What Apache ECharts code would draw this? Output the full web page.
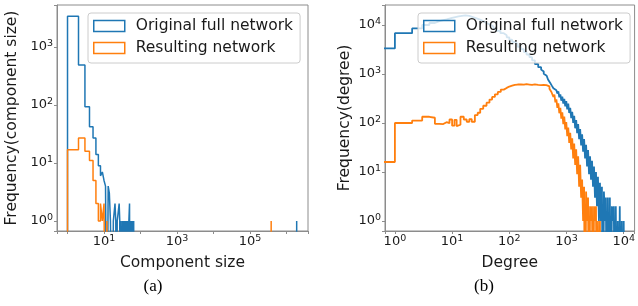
<!DOCTYPE html>
<html>
<head>
<meta charset="utf-8">
<script src="https://cdn.jsdelivr.net/npm/echarts@6/dist/echarts.min.js"></script>
<style>
html, body { margin: 0; padding: 0; background: #fff; }
#chart { width: 638px; height: 306px; }
</style>
</head>
<body>
<div id="chart"></div>
<script>
// (a) component size histogram, integer bins [size, size + 1)
var compSizeBlue = [1, 2, 3, 4, 5, 6, 7, 8, 9, 10,
  11, 12, 13, 14, 15, 16, 17, 18, 19, 20,
  21, 22, 23, 24, 25, 26, 27, 28, 29, 30,
  31, 32, 33, 34, 35, 36, 37, 38, 39, 40,
  41, 42, 43, 44, 45, 46, 47, 48, 49, 50,
  51, 52, 53, 54, 55, 56, 57, 58, 59, 60,
  61, 62, 63, 64, 65, 1900000];
var compCountBlue = [3400, 490, 93, 42, 27, 14, 9, 6, 7, 5,
  4, 0, 4, 3, 1, 1, 0, 1, 1, 2,
  1, 0, 1, 1, 1, 2, 1, 0, 1, 1,
  0, 1, 1, 0, 1, 0, 1, 1, 0, 1,
  1, 0, 1, 0, 1, 1, 0, 1, 1, 2,
  2, 0, 1, 0, 1, 0, 1, 1, 0, 1,
  0, 1, 0, 0, 1, 1];
var compSizeOrange = [1, 2, 3, 4, 5, 6, 7, 8, 9, 10, 11, 12, 380000];
var compCountOrange = [17, 27, 16, 11, 5, 2, 1, 2, 1, 2, 0, 1, 1];

// (b) degree histogram, bin edges and counts (noisy tails alternate high/low)
var degEdgesBlue = [0, 1, 2, 3, 4, 5, 6, 8, 10, 13, 17, 20, 23, 26, 30, 35, 40, 46, 53, 60,
  70, 80, 90, 100, 112, 125, 140, 160, 180, 200, 225, 250, 280, 320, 360, 380, 400, 425, 450, 475,
  500, 530, 560, 590, 620,
  665, 692, 720, 749, 780, 811, 844, 879, 914, 951,
  990, 1030, 1072, 1116, 1161, 1209, 1258, 1309, 1362, 1418,
  1475, 1535, 1598, 1663, 1731, 1801, 1874, 1951, 2030, 2113,
  2199, 2288, 2381, 2478, 2579, 2684, 2793, 2907, 3025, 3148,
  3276, 3409, 3548, 3693, 3843, 3999, 4162, 4331, 4508, 4691,
  4882, 5081, 5287, 5503, 5727, 5960, 6202, 6455, 6717, 6991,
  7275, 7571, 7879, 8200, 8534, 8881, 9243, 9619, 10000, 10407, 10831];
var degCountBlue = [3330, 6800, 8500, 10000, 11000, 12000, 13000, 14000, 15000, 15800,
  15300, 14500, 13800, 13000, 12000, 11000, 10200, 9300, 8400, 7600,
  6800, 6200, 5600, 5000, 4500, 4100, 3600, 3200, 2800, 2500,
  2200, 1900, 1600, 1380, 1230, 1120, 1010, 920, 840, 770,
  700, 630, 565, 510, 465,
  480, 400, 440, 335, 385, 285, 345, 250, 310, 218,
  280, 190, 250, 160, 205, 126, 170, 100, 140, 78,
  115, 62, 95, 47, 75, 35, 59, 26, 47, 19,
  36, 13, 28, 9, 21, 7, 17, 5, 13, 3,
  10, 2, 8, 1, 6, 1, 5, 0, 4, 1,
  3, 0, 3, 0, 3, 0, 2, 1, 2, 0,
  2, 0, 1, 0, 2, 0, 1, 0, 1, 0];
var degEdgesOrange = [0, 1, 2, 3, 4, 5, 6, 7, 8, 9, 10, 11, 12, 13, 14, 16, 18, 20, 22, 25,
  28, 31, 35, 40, 45, 50, 56, 63, 71, 80, 90, 100, 112, 125, 140, 160, 180, 200, 225, 250,
  280, 320, 360, 400,
  446, 464, 483, 503, 523, 545, 567, 590, 614, 639,
  665, 692, 720, 749, 780, 811, 844, 879, 914, 951,
  990, 1030, 1072, 1116, 1161, 1209, 1258, 1309, 1362, 1418,
  1475, 1535, 1598, 1663, 1731, 1801, 1874, 1951, 2030, 2113,
  2199, 2288, 2381, 2478, 2579, 2684, 2793, 2907, 3025, 3148,
  3276, 3409, 3548, 3693, 3843, 3999, 4162];
var degCountOrange = [16, 100, 112, 134, 128, 96, 95, 104, 99, 118,
  88, 116, 86, 92, 134, 118, 106, 120, 106, 145,
  162, 195, 225, 260, 300, 340, 385, 430, 480, 520,
  555, 580, 600, 610, 615, 605, 620, 610, 600, 612,
  600, 590, 600, 595,
  585, 555, 560, 500, 515, 430, 460, 340, 380, 265,
  305, 204, 251, 158, 204, 123, 166, 95, 135, 74,
  105, 54, 81, 39, 63, 29, 49, 19, 38, 14,
  29, 9, 21, 5, 14, 3, 7, 1, 5, 0,
  4, 1, 3, 0, 2, 1, 2, 0, 2, 1,
  2, 0, 1, 0, 1, 0];

var seriesNames = ['Original full network', 'Resulting network'];
var BLUE = '#1f77b4', ORANGE = '#ff7f0e';
var FLOOR = 1e-3;

function stepLine(lefts, rights, counts) {
  var pts = [];
  for (var i = 0; i < counts.length; i++) {
    var x0 = lefts[i] > 0 ? lefts[i] : FLOOR;
    var y = counts[i] > 0 ? counts[i] : FLOOR;
    if (i === 0 || lefts[i] !== rights[i - 1]) {
      if (i > 0) pts.push([rights[i - 1], FLOOR]);
      pts.push([x0, FLOOR]);
    }
    pts.push([x0, y], [rights[i], y]);
  }
  pts.push([rights[counts.length - 1], FLOOR]);
  return pts;
}
function intBins(sizes, counts) {
  return stepLine(sizes, sizes.map(function (s) { return s + 1; }), counts);
}
function edgeBins(edges, counts) {
  return stepLine(edges.slice(0, -1), edges.slice(1), counts);
}

function powLabel(keep) {
  return function (v) {
    var l = Math.log10(v), e = Math.round(l);
    if (Math.abs(l - e) > 1e-6 || !keep(e)) return '';
    return '10{s|' + e + '}';
  };
}
var txt = '#1a1a1a';
function logAxis(idx, min, max, name, gap, keep, isX) {
  return {
    type: 'log', logBase: 10, gridIndex: idx, min: min, max: max,
    name: name, nameLocation: 'middle', nameGap: gap,
    nameTextStyle: { fontSize: 15.5, color: txt, fontFamily: 'DejaVu Sans' },
    axisLine: { show: true, lineStyle: { color: '#8c8c8c', width: 1 } },
    axisTick: { show: true, length: 3, lineStyle: { color: '#8c8c8c' } },
    splitLine: { show: false },
    axisLabel: {
      formatter: powLabel(keep), margin: isX ? 3 : 4,
      fontSize: 13, color: txt, fontFamily: 'DejaVu Sans', lineHeight: 16,
      rich: { s: { fontSize: 9.5, lineHeight: 9, verticalAlign: 'top', color: txt, fontFamily: 'DejaVu Sans' } }
    }
  };
}
function all() { return true; }
function odd(e) { return Math.abs(e % 2) === 1; }

function legend(left, top) {
  return {
    orient: 'vertical', left: left, top: top,
    padding: [4, 7, 6, 5], itemGap: 4, itemWidth: 31, itemHeight: 11,
    backgroundColor: 'rgba(255,255,255,0.8)', borderColor: '#cccccc', borderWidth: 1, borderRadius: 3,
    formatter: function (name) { return '{t|' + name + '}'; },
    textStyle: {
      fontSize: 15.5, color: txt, fontFamily: 'DejaVu Sans', lineHeight: 18,
      rich: { t: { fontSize: 15.5, color: txt, fontFamily: 'DejaVu Sans', lineHeight: 18, padding: [0, 0, 0, 6] } }
    },
    selectedMode: false,
    data: [
      { name: seriesNames[0], icon: 'rect', itemStyle: { color: 'rgba(0,0,0,0)', borderColor: BLUE, borderWidth: 1.5 } },
      { name: seriesNames[1], icon: 'rect', itemStyle: { color: 'rgba(0,0,0,0)', borderColor: ORANGE, borderWidth: 1.5 } }
    ]
  };
}
function histSeries(name, color, g, data, w) {
  return {
    name: name, type: 'line', xAxisIndex: g, yAxisIndex: g,
    data: data, showSymbol: false, symbol: 'none', clip: true, silent: true,
    lineStyle: { color: color, width: w }, itemStyle: { color: color }
  };
}

var chart = echarts.init(document.getElementById('chart'), null, { renderer: 'canvas' });
chart.setOption({
  animation: false,
  backgroundColor: '#fff',
  grid: [
    { left: 57, top: 5, width: 251, height: 226, show: true, borderColor: '#8c8c8c', borderWidth: 1 },
    { left: 385, top: 5, width: 252, height: 226, show: true, borderColor: '#8c8c8c', borderWidth: 1 }
  ],
  xAxis: [
    logAxis(0, 0.515, 3.88e6, 'Component size', 19, odd, true),
    logAxis(1, 0.671, 15500, 'Degree', 19, all, true)
  ],
  yAxis: [
    logAxis(0, 0.672, 5300, 'Frequency(component size)', 37, all, false),
    logAxis(1, 0.625, 25600, 'Frequency(degree)', 32, all, false)
  ],
  legend: [legend(88, 13), legend(418, 13)],
  series: [
    histSeries(seriesNames[0], BLUE, 0, intBins(compSizeBlue, compCountBlue), 1.5),
    histSeries(seriesNames[1], ORANGE, 0, intBins(compSizeOrange, compCountOrange), 1.5),
    histSeries(seriesNames[0], BLUE, 1, edgeBins(degEdgesBlue, degCountBlue), 1.8),
    histSeries(seriesNames[1], ORANGE, 1, edgeBins(degEdgesOrange, degCountOrange), 1.8)
  ],
  graphic: [
    { type: 'text', x: 153, y: 287, style: { text: '(a)', align: 'center', verticalAlign: 'middle', fontSize: 17, fontFamily: 'Liberation Serif', fill: '#000' } },
    { type: 'text', x: 484, y: 287, style: { text: '(b)', align: 'center', verticalAlign: 'middle', fontSize: 17, fontFamily: 'Liberation Serif', fill: '#000' } }
  ]
});
</script>
</body>
</html>
